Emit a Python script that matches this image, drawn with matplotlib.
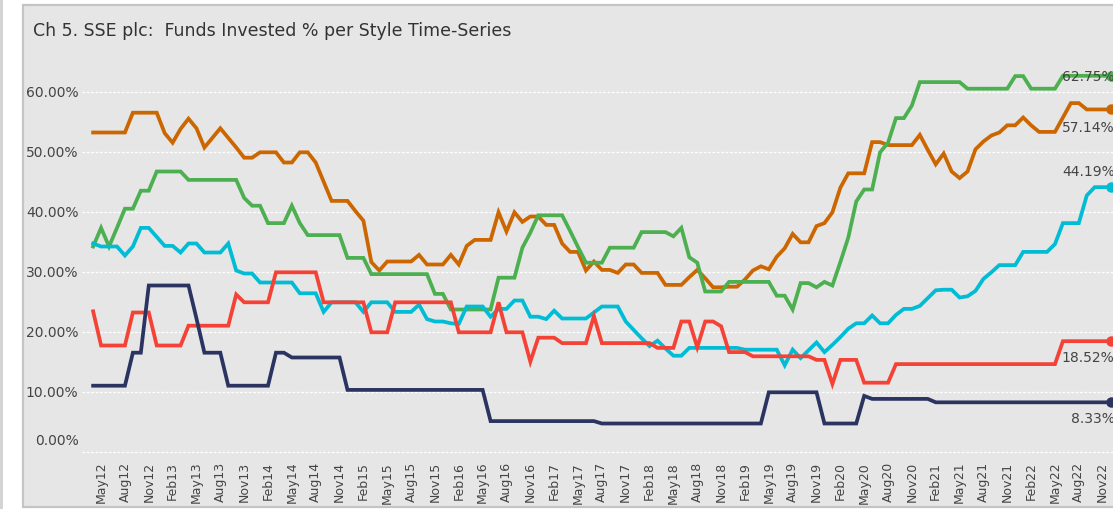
import matplotlib
matplotlib.use('Agg')
import matplotlib.pyplot as plt
import pandas as pd
from matplotlib.patches import Rectangle
from matplotlib.transforms import blended_transform_factory

# ---------------- data ----------------
months = pd.date_range('2012-04-01', periods=129, freq='MS')
month_labels = [d.strftime('%b%y') for d in months]
tick_idx = list(range(1, 129, 3))  # May12 ... Nov22

y_ticks = [0, 10, 20, 30, 40, 50, 60]

orange = [
    53.3, 53.3, 53.3, 53.3, 53.3, 56.6, 56.6, 56.6, 56.6, 53.2,
    51.6, 53.9, 55.6, 54.0, 50.8, 52.4, 54.0, 52.4, 50.8, 49.1,
    49.1, 50.0, 50.0, 50.0, 48.3, 48.3, 50.0, 50.0, 48.3, 45.1,
    41.9, 41.9, 41.9, 40.2, 38.6, 31.7, 30.3, 31.8, 31.8, 31.8,
    31.8, 32.9, 31.3, 31.3, 31.3, 32.9, 31.3, 34.4, 35.4, 35.4,
    35.4, 40.0, 36.8, 40.0, 38.4, 39.3, 39.3, 37.9, 37.9, 34.8,
    33.4, 33.4, 30.3, 31.8, 30.4, 30.4, 29.9, 31.3, 31.3, 29.9,
    29.9, 29.9, 27.9, 27.9, 27.9, 29.2, 30.4, 29.0, 27.5, 27.5,
    27.6, 27.6, 28.8, 30.3, 31.0, 30.5, 32.6, 34.0, 36.4, 35.0,
    35.0, 37.7, 38.2, 40.0, 44.1, 46.5, 46.5, 46.5, 51.7, 51.7,
    51.2, 51.2, 51.2, 51.2, 52.9, 50.4, 48.0, 49.8, 46.8, 45.7,
    46.8, 50.5, 51.8, 52.8, 53.3, 54.5, 54.5, 55.8, 54.5, 53.4,
    53.4, 53.4, 55.8, 58.2, 58.2, 57.14, 57.14, 57.14, 57.14,
]

green = [
    34.3, 37.4, 34.3, 37.4, 40.6, 40.6, 43.6, 43.6, 46.8, 46.8,
    46.8, 46.8, 45.4, 45.4, 45.4, 45.4, 45.4, 45.4, 45.4, 42.4,
    41.1, 41.1, 38.2, 38.2, 38.2, 41.1, 38.2, 36.2, 36.2, 36.2,
    36.2, 36.2, 32.4, 32.4, 32.4, 29.7, 29.7, 29.7, 29.7, 29.7,
    29.7, 29.7, 29.7, 26.4, 26.4, 23.8, 23.8, 23.8, 23.8, 23.8,
    23.8, 29.1, 29.1, 29.1, 34.1, 36.6, 39.5, 39.5, 39.5, 39.5,
    36.9, 34.2, 31.6, 31.6, 31.6, 34.1, 34.1, 34.1, 34.1, 36.7,
    36.7, 36.7, 36.7, 36.0, 37.4, 32.5, 31.6, 26.8, 26.8, 26.8,
    28.4, 28.4, 28.4, 28.4, 28.4, 28.4, 26.1, 26.1, 23.8, 28.2,
    28.2, 27.5, 28.4, 27.8, 31.7, 35.8, 41.8, 43.8, 43.8, 50.0,
    51.6, 55.7, 55.7, 57.8, 61.7, 61.7, 61.7, 61.7, 61.7, 61.7,
    60.6, 60.6, 60.6, 60.6, 60.6, 60.6, 62.7, 62.7, 60.6, 60.6,
    60.6, 60.6, 62.75, 62.75, 62.75, 62.75, 62.75, 62.75, 62.75,
]

cyan = [
    34.8, 34.3, 34.3, 34.3, 32.8, 34.3, 37.4, 37.4, 35.9, 34.4,
    34.4, 33.3, 34.8, 34.8, 33.3, 33.3, 33.3, 34.8, 30.3, 29.8,
    29.8, 28.3, 28.3, 28.3, 28.3, 28.3, 26.5, 26.5, 26.5, 23.4,
    25.0, 25.0, 25.0, 25.0, 23.4, 25.0, 25.0, 25.0, 23.4, 23.4,
    23.4, 24.6, 22.2, 21.8, 21.8, 21.5, 21.4, 24.3, 24.3, 24.3,
    22.6, 23.9, 23.9, 25.3, 25.3, 22.6, 22.6, 22.2, 23.6, 22.3,
    22.3, 22.3, 22.3, 23.3, 24.3, 24.3, 24.3, 21.8, 20.4, 19.0,
    17.7, 18.6, 17.3, 16.1, 16.1, 17.4, 17.4, 17.4, 17.4, 17.4,
    17.4, 17.4, 17.1, 17.1, 17.1, 17.1, 17.1, 14.5, 17.1, 15.7,
    17.0, 18.3, 16.7, 17.9, 19.2, 20.6, 21.5, 21.5, 22.8, 21.5,
    21.5, 22.9, 23.9, 23.9, 24.4, 25.7, 27.0, 27.1, 27.1, 25.8,
    26.0, 26.9, 28.9, 30.0, 31.2, 31.2, 31.2, 33.4, 33.4, 33.4,
    33.4, 34.7, 38.2, 38.2, 38.2, 42.8, 44.19, 44.19, 44.19,
]

red = [
    23.5, 17.8, 17.8, 17.8, 17.8, 23.3, 23.3, 23.3, 17.8, 17.8,
    17.8, 17.8, 21.1, 21.1, 21.1, 21.1, 21.1, 21.1, 26.3, 25.0,
    25.0, 25.0, 25.0, 30.0, 30.0, 30.0, 30.0, 30.0, 30.0, 25.0,
    25.0, 25.0, 25.0, 25.0, 25.0, 20.0, 20.0, 20.0, 25.0, 25.0,
    25.0, 25.0, 25.0, 25.0, 25.0, 25.0, 20.0, 20.0, 20.0, 20.0,
    20.0, 25.0, 20.0, 20.0, 20.0, 15.1, 19.1, 19.1, 19.1, 18.2,
    18.2, 18.2, 18.2, 22.7, 18.2, 18.2, 18.2, 18.2, 18.2, 18.2,
    18.2, 17.4, 17.4, 17.4, 21.8, 21.8, 17.5, 21.8, 21.8, 21.0,
    16.7, 16.7, 16.7, 16.0, 16.0, 16.0, 16.0, 16.0, 16.0, 16.0,
    16.0, 15.4, 15.4, 11.4, 15.4, 15.4, 15.4, 11.6, 11.6, 11.6,
    11.6, 14.7, 14.7, 14.7, 14.7, 14.7, 14.7, 14.7, 14.7, 14.7,
    14.7, 14.7, 14.7, 14.7, 14.7, 14.7, 14.7, 14.7, 14.7, 14.7,
    14.7, 14.7, 18.52, 18.52, 18.52, 18.52, 18.52, 18.52, 18.52,
]

navy = [
    11.1, 11.1, 11.1, 11.1, 11.1, 16.6, 16.6, 27.8, 27.8, 27.8,
    27.8, 27.8, 27.8, 22.3, 16.6, 16.6, 16.6, 11.1, 11.1, 11.1,
    11.1, 11.1, 11.1, 16.6, 16.6, 15.8, 15.8, 15.8, 15.8, 15.8,
    15.8, 15.8, 10.4, 10.4, 10.4, 10.4, 10.4, 10.4, 10.4, 10.4,
    10.4, 10.4, 10.4, 10.4, 10.4, 10.4, 10.4, 10.4, 10.4, 10.4,
    5.2, 5.2, 5.2, 5.2, 5.2, 5.2, 5.2, 5.2, 5.2, 5.2,
    5.2, 5.2, 5.2, 5.2, 4.8, 4.8, 4.8, 4.8, 4.8, 4.8,
    4.8, 4.8, 4.8, 4.8, 4.8, 4.8, 4.8, 4.8, 4.8, 4.8,
    4.8, 4.8, 4.8, 4.8, 4.8, 10.0, 10.0, 10.0, 10.0, 10.0,
    10.0, 10.0, 4.8, 4.8, 4.8, 4.8, 4.8, 9.4, 8.9, 8.9,
    8.9, 8.9, 8.9, 8.9, 8.9, 8.9, 8.33, 8.33, 8.33, 8.33,
    8.33, 8.33, 8.33, 8.33, 8.33, 8.33, 8.33, 8.33, 8.33, 8.33,
    8.33, 8.33, 8.33, 8.33, 8.33, 8.33, 8.33, 8.33, 8.33,
]

series = [
    (orange, '#cc6600', -18),
    (green, '#4caf50', 0),
    (cyan, '#00bcd4', 16),
    (red, '#f44336', -16),
    (navy, '#2b3360', -16),
]

# ---------------- figure ----------------
W, H = 1113, 510
fig = plt.figure(figsize=(W / 100, H / 100), dpi=100)
fig.patch.set_facecolor('white')

# outer panel
fig.patches.append(Rectangle((23 / W, 2 / H), 1.2, (H - 8) / H, transform=fig.transFigure,
                             facecolor='#e6e6e6', edgecolor='#c4c4c4', linewidth=1.6, zorder=-5))
fig.patches.append(Rectangle((0, 0), 3 / W, 1, transform=fig.transFigure,
                             facecolor='#d4d4d4', edgecolor='none', zorder=-5))

ax_left, ax_right = 82, 1113
ax_bottom_px, ax_top_px = 456.3, 51.3
ax = fig.add_axes([ax_left / W, (H - ax_bottom_px) / H,
                   (ax_right - ax_left) / W, (ax_bottom_px - ax_top_px) / H])
ax.set_zorder(2)
ax.patch.set_visible(False)
for s in ax.spines.values():
    s.set_visible(False)

x = list(range(len(orange)))
for vals, col, dy in series:
    ax.plot(x, vals, color=col, lw=2.7, solid_joinstyle='miter', zorder=3, clip_on=False)
    ax.plot([x[-1]], [vals[-1]], 'o', color=col, ms=6.5, zorder=4, clip_on=False)
    ax.annotate(f'{vals[-1]:.2f}%', (x[-1], vals[-1]), xytext=(4, dy),
                textcoords='offset pixels', ha='right', va='center',
                fontsize=10, color='#444444', zorder=5, annotation_clip=False)

ax.set_xlim(-1.4, 128.3)
ax.set_ylim(-0.5, 67)

for yt in y_ticks:
    ax.axhline(yt, color='white', lw=0.9, ls=(0, (2.2, 1.3)), zorder=1)

ax.set_yticks(y_ticks)
ax.set_yticklabels([])
ax.tick_params(axis='y', length=0)
tr = blended_transform_factory(ax.transAxes, ax.transData)
for yt in y_ticks:
    off = 2.0 if yt == 0 else 0
    ax.text(-0.0035, yt + off, f'{yt:.2f}%', transform=tr, ha='right', va='center',
            fontsize=10, color='#444444')

ax.set_xticks(tick_idx)
ax.set_xticklabels([month_labels[i] for i in tick_idx], rotation=90,
                   fontsize=9, color='#444444')
ax.tick_params(axis='x', length=0, pad=4)

fig.text(33 / W, 1 - 31 / H, 'Ch 5. SSE plc:  Funds Invested % per Style Time-Series',
         ha='left', va='center', fontsize=12.5, color='#333333')

fig.savefig('out.png', dpi=100, facecolor='white')
